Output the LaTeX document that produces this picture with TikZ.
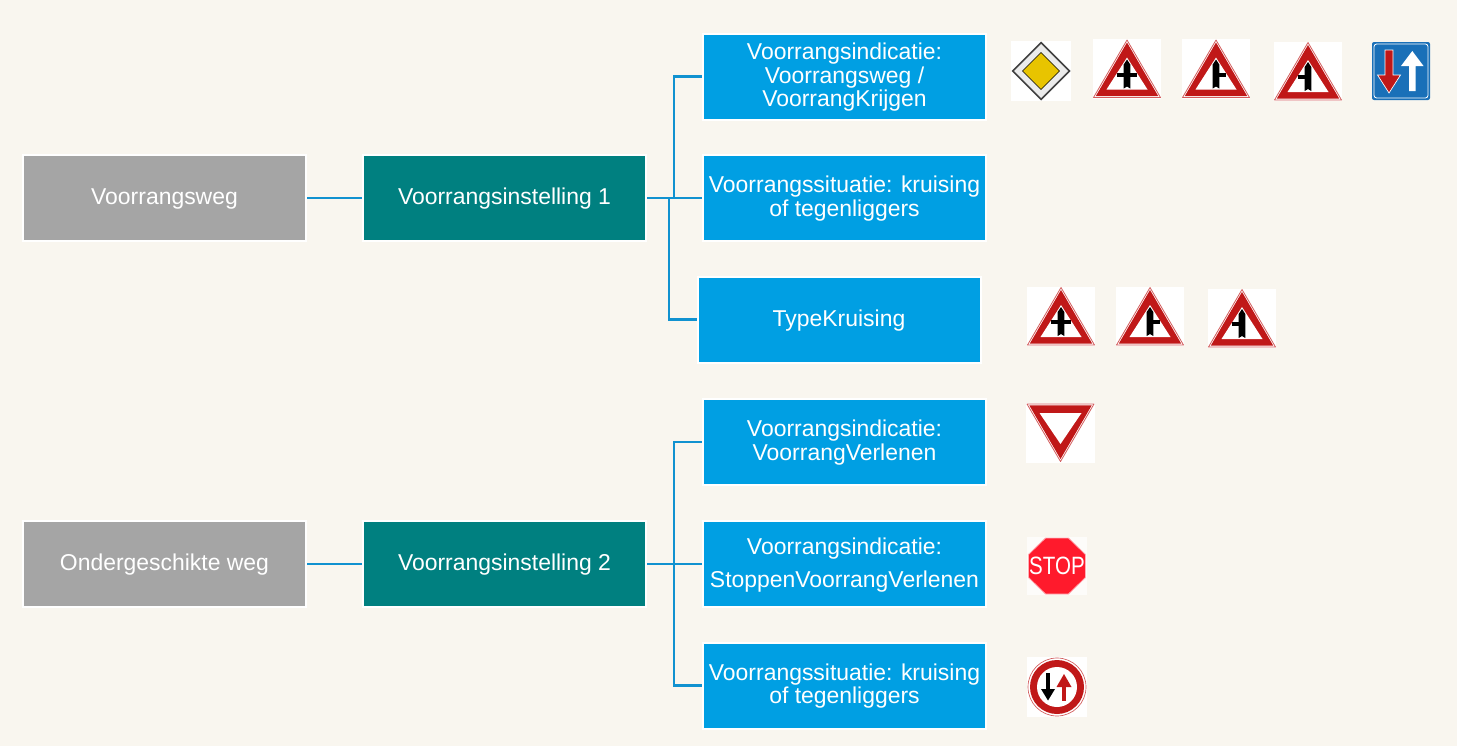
\documentclass[tikz,border=0pt]{standalone}
\usepackage{fontspec}
\setmainfont{Liberation Sans}
\usetikzlibrary{calc}
\definecolor{pagebg}{HTML}{F9F6EF}
\definecolor{greybox}{HTML}{A5A5A5}
\definecolor{tealbox}{HTML}{008080}
\definecolor{bluebox}{HTML}{009FE3}
\definecolor{linkblue}{HTML}{1192D0}
\definecolor{signred}{HTML}{C01818}
\definecolor{signblue}{HTML}{1A70B8}
\definecolor{signyellow}{HTML}{E8C400}
\definecolor{stopred}{HTML}{FF1A2C}
\newcommand\boxlines[1]{\raisebox{-1.4pt}[\height][\depth]{\begin{tabular}{@{}c@{}}#1\end{tabular}}}
\tikzset{
  x=.75pt,y=-.75pt,
  boxbase/.style={draw=white,line width=1.5pt,text=white,inner sep=0pt,
    minimum width=212.25pt,minimum height=64.5pt,
    font=\fontsize{17.2}{17.6}\selectfont},
  greynode/.style={boxbase,fill=greybox},
  tealnode/.style={boxbase,fill=tealbox},
  bluenode/.style={boxbase,fill=bluebox},
  link/.style={draw=linkblue,line width=1.8pt},
  pics/warnsign/.style n args={2}{code={
    \fill[white] (-34,-29.5) rectangle (34,30);
    \draw[signred!70,line width=.6pt,line join=round,fill=white] (0,-28.5) -- (33.5,29) -- (-33.5,29) -- cycle;
    \fill[signred,line join=round] (0,-26) -- (31.2,27.6) -- (-31.2,27.6) -- cycle;
    \fill[white] (0,-11) -- (20.5,21) -- (-20.5,21) -- cycle;
    \fill[black] (-3.3,-4) -- (0,-9) -- (3.3,-4) -- (3.3,20) -- (0,18) -- (-3.3,20) -- cycle;
    \fill[black] (-#1,4.2) rectangle (#2,8.2);
  }},
  pics/yieldsign/.style={code={
    \fill[white] (-34.5,-30) rectangle (34.5,30);
    \draw[signred!70,line width=.6pt,line join=round,fill=white] (0,28.5) -- (33.5,-29) -- (-33.5,-29) -- cycle;
    \fill[signred] (0,26) -- (31.2,-27.6) -- (-31.2,-27.6) -- cycle;
    \fill[white] (0,11) -- (21,-20) -- (-21,-20) -- cycle;
  }},
  pics/prioritysign/.style={code={
    \fill[white] (-30,-30) rectangle (30,30);
    \fill[black!75] (0,-29.5) -- (29.5,0) -- (0,29.5) -- (-29.5,0) -- cycle;
    \fill[black!8] (0,-27) -- (27,0) -- (0,27) -- (-27,0) -- cycle;
    \draw[black,line width=.4pt,fill=signyellow] (0,-18.5) -- (18.5,0) -- (0,18.5) -- (-18.5,0) -- cycle;
  }},
  pics/twowaysign/.style={code={
    \fill[signblue,rounded corners=1.5pt] (-29,-29) rectangle (29,29);
    \draw[white,line width=.6pt,rounded corners=2pt] (-27,-27) rectangle (27,27);
    \fill[signred,draw=white,line width=.5pt] (-16,-21) -- (-8,-21) -- (-8,4) -- (-0.5,4) -- (-12,22) -- (-23.5,4) -- (-16,4) -- cycle;
    \fill[white] (11.3,-20) -- (22.5,-5) -- (14.7,-5) -- (14.7,20) -- (8,20) -- (8,-5) -- (0,-5) -- cycle;
  }},
  pics/stopsign/.style={code={
    \fill[white!70!pagebg] (-30,-29) rectangle (30,29);
    \fill[stopred,draw=stopred!35,line width=.6pt] (-11.5,-28) -- (11.5,-28) -- (28.5,-11.5) -- (28.5,11.5) -- (11.5,28) -- (-11.5,28) -- (-28.5,11.5) -- (-28.5,-11.5) -- cycle;
    \node[text=white,inner sep=0pt,xscale=.82,font=\fontsize{18.8}{18.8}\selectfont] (stoptext) at (0,0) {STOP};
  }},
  pics/oppositesign/.style={code={
    \fill[white] (-30,-30) rectangle (30,30);
    \draw[signred!70,line width=.5pt] (0,0) circle (29);
    \fill[signred] (0,0) circle (27);
    \fill[white] (0,0) circle (20);
    \fill[black] (-10.6,-14) rectangle (-7,3);
    \fill[black] (-16,2) -- (-2,2) -- (-9,13.5) -- cycle;
    \fill[signred] (5,-1) rectangle (9,14);
    \fill[signred] (7,-13) -- (14.5,0) -- (-.5,0) -- cycle;
  }},
}
\begin{document}
\begin{tikzpicture}
\useasboundingbox (0,0) rectangle (1457,746);
\fill[pagebg] (0,0) rectangle (1457,746);

\node[greynode] (g1) at (164.5,198) {\boxlines{Voorrangsweg}};
\node[tealnode] (t1) at (504.5,198) {\boxlines{Voorrangsinstelling 1}};
\node[bluenode] (b1) at (844.5,76.5) {\boxlines{Voorrangsindicatie:\\Voorrangsweg /\\VoorrangKrijgen}};
\node[bluenode] (b2) at (844.5,198) {\boxlines{Voorrangssituatie: kruising\\of tegenliggers}};
\node[bluenode] (b3) at (839,319.5) {\boxlines{TypeKruising}};

\node[greynode] (g2) at (164.5,564) {\boxlines{Ondergeschikte weg}};
\node[tealnode] (t2) at (504.5,564) {\boxlines{Voorrangsinstelling 2}};
\node[bluenode] (b4) at (844.5,442) {\boxlines{Voorrangsindicatie:\\VoorrangVerlenen}};
\node[bluenode] (b5) at (844.5,564) {\boxlines{Voorrangsindicatie:\\[7pt]StoppenVoorrangVerlenen}};
\node[bluenode] (b6) at (844.5,685.5) {\boxlines{Voorrangssituatie: kruising\\of tegenliggers}};

\coordinate (j1) at (674,198);
\coordinate (j2) at (669,198);
\coordinate (j3) at (674,564);

\draw[link] (g1) -- (t1);
\draw[link] (t1) -- (b2);
\draw[link] (j1) |- (b1.west);
\draw[link] (j2) |- (b3.west);

\draw[link] (g2) -- (t2);
\draw[link] (t2) -- (b5);
\draw[link] (j3) |- (b4.west);
\draw[link] (j3) |- (b6.west);

\pic at (1041,71) {prioritysign};
\pic at (1127,68.5) {warnsign={10}{10}};
\pic at (1216,68.5) {warnsign={3}{10}};
\pic at (1308,71) {warnsign={10}{3}};
\pic at (1401,71) {twowaysign};

\pic at (1061,316) {warnsign={10}{10}};
\pic at (1150,316) {warnsign={3}{10}};
\pic at (1242,318) {warnsign={10}{3}};

\pic at (1060.5,433) {yieldsign};
\pic at (1057,566) {stopsign};
\pic at (1057,687) {oppositesign};
\end{tikzpicture}
\end{document}
